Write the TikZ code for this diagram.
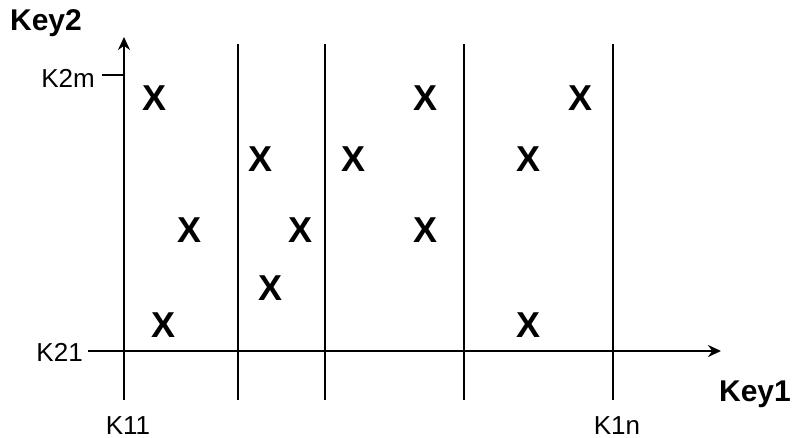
\documentclass[tikz,border=0pt]{standalone}
\usepackage{fontspec}
\setmainfont{Liberation Sans}
\usetikzlibrary{arrows.meta}

\begin{document}
\begin{tikzpicture}[x=1pt,y=-1pt,line width=2.5pt,
    cross/.style={font=\fontsize{36}{36}\selectfont\bfseries},
    keylabel/.style={font=\fontsize{30}{30}\selectfont\bfseries},
    klabel/.style={font=\fontsize{26}{26}\selectfont},
    axis/.style={-{Stealth[length=13pt,width=12pt]}}]
    \useasboundingbox (0,0) rectangle (794,438);

    % axes
    \coordinate (ybot) at (124,400);
    \coordinate (ytop) at (124,37);
    \coordinate (xleft) at (88,351);
    \coordinate (xright) at (721,351);
    \draw[axis] (ybot) -- (ytop);
    \draw[axis] (xleft) -- (xright);
    \coordinate (tickl) at (102,75);
    \coordinate (tickr) at (124,75);
    \draw (tickl) -- (tickr);

    % partition lines
    \foreach \vx [count=\i] in {238,325,464,613} {
        \coordinate (top\i) at (\vx,44);
        \coordinate (bot\i) at (\vx,400);
        \draw (top\i) -- (bot\i);
    }

    % labels
    \node[keylabel, anchor=base] (key2) at (46,31) {Key2};
    \node[keylabel, anchor=base] (key1) at (755,401) {Key1};
    \node[klabel, anchor=base east, inner sep=0pt] (k2m) at (96,88) {K2m};
    \node[klabel, anchor=base east, inner sep=0pt] (k21) at (84,361) {K21};
    \node[klabel, anchor=base] (k11) at (128,434) {K11};
    \node[klabel, anchor=base] (k1n) at (617,434) {K1n};

    % keys
    \foreach \px/\py [count=\i] in {155/98,425/98,580/98,
        261/159,353/159,528/159,
        190/230,301/230,425/230,
        271/288,164/325,528/325} {
        \node[cross] (x\i) at (\px,\py) {X};
    }
\end{tikzpicture}
\end{document}
